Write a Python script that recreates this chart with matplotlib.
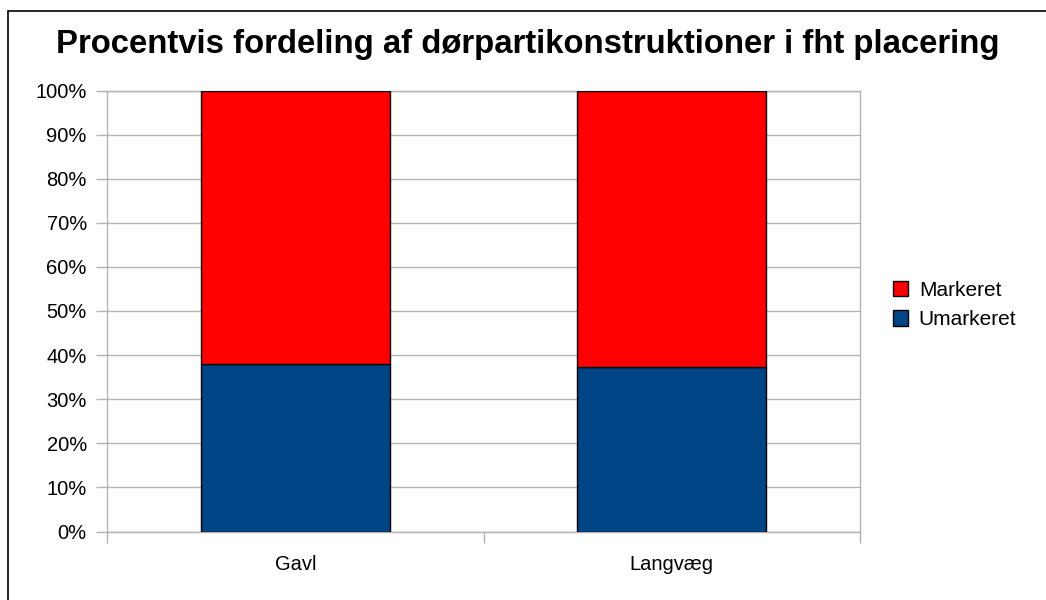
import matplotlib.pyplot as plt
from matplotlib.patches import Rectangle
from matplotlib.ticker import FixedLocator, PercentFormatter
import numpy as np

# Share of door-section constructions by placement (percent)
CATEGORIES = ["Gavl", "Langvæg"]
UMARKERET = [37.9, 37.2]
MARKERET = [62.1, 62.8]

TITLE = "Procentvis fordeling af dørpartikonstruktioner i fht placering"
RED = "#ff0000"
BLUE = "#004586"
GRID = "#b3b3b3"

plt.rcParams["font.family"] = ["Liberation Sans", "DejaVu Sans"]


def main() -> None:
    fig = plt.figure(figsize=(10.46, 6.0), dpi=100)
    W, H = 1046, 600

    # outer frame of the chart (right/bottom edges run off the canvas)
    fig.patches.append(
        Rectangle((8 / W, -0.1), 1.2, (600 - 11) / H + 0.1, transform=fig.transFigure,
                  fill=False, edgecolor="black", linewidth=1.2)
    )

    ax = fig.add_axes([107 / W, 68.5 / H, (860 - 107) / W, (531.5 - 90.5) / H])

    x = np.arange(len(CATEGORIES))
    width = 0.502
    ax.bar(x, UMARKERET, width, color=BLUE, edgecolor="black", linewidth=1.0,
           label="Umarkeret", zorder=3)
    ax.bar(x, MARKERET, width, bottom=UMARKERET, color=RED, edgecolor="black",
           linewidth=1.0, label="Markeret", zorder=3)

    ax.set_xlim(-0.5, len(CATEGORIES) - 0.5)
    ax.set_ylim(0, 100)
    ax.set_yticks(np.arange(0, 101, 10))
    ax.yaxis.set_major_formatter(PercentFormatter(decimals=0))
    ax.set_xticks(x)
    ax.set_xticklabels(CATEGORIES)
    ax.xaxis.set_minor_locator(FixedLocator(np.arange(-0.5, len(CATEGORIES), 1.0)))

    ax.grid(axis="y", color=GRID, linewidth=1.0, zorder=0)
    for spine in ax.spines.values():
        spine.set_color(GRID)
        spine.set_linewidth(1.0)

    ax.tick_params(axis="y", length=8, width=1.0, color=GRID, pad=6.5, labelsize=14.5)
    ax.tick_params(axis="x", which="major", length=0, pad=17, labelsize=14.5)
    ax.tick_params(axis="x", which="minor", length=8, width=1.0, color=GRID)

    fig.text(528 / W, 1 - 53 / H, TITLE, ha="center", va="baseline",
             fontsize=23.7, fontweight="bold")

    handles, labels = ax.get_legend_handles_labels()
    fig.legend(handles[::-1], labels[::-1], loc="center left",
               bbox_to_anchor=(874 / W, 1 - 305 / H), frameon=False,
               fontsize=15, handlelength=0.75, handleheight=0.75,
               handletextpad=0.5, labelspacing=0.5)

    fig.savefig("out.png", dpi=100, facecolor="white")
    plt.close(fig)


if __name__ == "__main__":
    main()
